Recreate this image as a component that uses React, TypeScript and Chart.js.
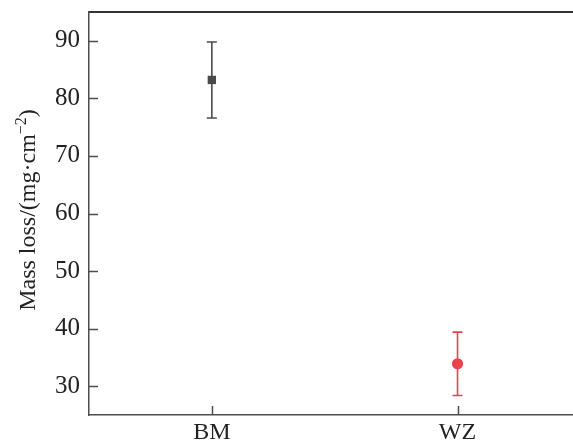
import React, { useEffect, useRef } from "react";
import { Chart, registerables } from "chart.js";

Chart.register(...registerables);

const categories = ["BM", "WZ"];
const categoryPositions = [1, 2];
const means = [83.2, 33.9];
const errors = [6.6, 5.5];
const colors = ["#4a4a4a", "#e8434c"];
const pointShapes = ["rect", "circle"];
const yTicks = [30, 40, 50, 60, 70, 80, 90];

const AXIS_COLOR = "#4d4d4d";
const FONT = "'Liberation Serif', 'Times New Roman', serif";

const errorBarPlugin = {
  id: "errorBars",
  afterDatasetsDraw(chart: any) {
    const ctx = chart.ctx;
    const xs = chart.scales.x;
    const ys = chart.scales.y;
    ctx.save();
    categoryPositions.forEach((p, i) => {
      const x = xs.getPixelForValue(p);
      const yTop = ys.getPixelForValue(means[i] + errors[i]);
      const yBot = ys.getPixelForValue(means[i] - errors[i]);
      ctx.strokeStyle = colors[i];
      ctx.lineWidth = 1.6;
      ctx.beginPath();
      ctx.moveTo(x, yTop);
      ctx.lineTo(x, yBot);
      ctx.moveTo(x - 5, yTop);
      ctx.lineTo(x + 5, yTop);
      ctx.moveTo(x - 5, yBot);
      ctx.lineTo(x + 5, yBot);
      ctx.stroke();
    });
    ctx.restore();
  },
};

const innerTicksPlugin = {
  id: "innerTicks",
  afterDraw(chart: any) {
    const ctx = chart.ctx;
    const xs = chart.scales.x;
    const ys = chart.scales.y;
    const area = chart.chartArea;
    ctx.save();
    ctx.strokeStyle = AXIS_COLOR;
    ctx.lineWidth = 1.5;
    ctx.beginPath();
    ys.ticks.forEach((t: any) => {
      const y = Math.round(ys.getPixelForValue(t.value)) + 0.5;
      ctx.moveTo(area.left, y);
      ctx.lineTo(area.left + 9, y);
    });
    xs.ticks.forEach((t: any) => {
      const x = Math.round(xs.getPixelForValue(t.value)) + 0.5;
      ctx.moveTo(x, area.bottom);
      ctx.lineTo(x, area.bottom - 9);
    });
    ctx.stroke();

    // y-axis title with superscript
    const main = "Mass loss/(mg·cm";
    const sup = "−2";
    const close = ")";
    ctx.fillStyle = "#222";
    ctx.font = `24px ${FONT}`;
    const wMain = ctx.measureText(main).width;
    const wClose = ctx.measureText(close).width;
    ctx.font = `16px ${FONT}`;
    const wSup = ctx.measureText(sup).width;
    const total = wMain + wSup + wClose;
    const cy = 210;
    ctx.translate(35, cy);
    ctx.rotate(-Math.PI / 2);
    ctx.textBaseline = "alphabetic";
    ctx.textAlign = "left";
    let x0 = -total / 2;
    ctx.font = `24px ${FONT}`;
    ctx.fillText(main, x0, 0);
    x0 += wMain;
    ctx.font = `16px ${FONT}`;
    ctx.fillText(sup, x0, -9);
    x0 += wSup;
    ctx.font = `24px ${FONT}`;
    ctx.fillText(close, x0, 0);
    ctx.restore();
  },
};

export default function App() {
  const ref = useRef<HTMLCanvasElement>(null);
  useEffect(() => {
    if (!ref.current) return;
    const chart = new Chart(ref.current, {
      type: "scatter",
      data: {
        datasets: categories.map((c, i) => ({
          label: c,
          data: [{ x: categoryPositions[i], y: means[i] }],
          backgroundColor: colors[i],
          borderColor: colors[i],
          pointStyle: pointShapes[i] as any,
          pointRadius: i === 0 ? 5.9 : 5.6,
          borderWidth: 0,
        })),
      },
      options: {
        animation: false,
        responsive: false,
        layout: { padding: 0, autoPadding: false },
        plugins: { legend: { display: false }, tooltip: { enabled: false } },
        scales: {
          x: {
            type: "linear",
            position: "bottom",
            min: 0.5,
            max: 2.47,
            afterBuildTicks: (s: any) => {
              s.ticks = categoryPositions.map((v) => ({ value: v }));
            },
            afterFit: (s: any) => {
              s.height = 30;
              s.paddingLeft = 0;
              s.paddingRight = 0;
            },
            ticks: {
              autoSkip: false,
              maxRotation: 0,
              padding: 3,
              color: "#222",
              font: { family: FONT, size: 24 },
              callback: (v: any) => {
                const idx = categoryPositions.indexOf(Number(v));
                return idx >= 0 ? categories[idx] : "";
              },
            },
            grid: { display: false, drawTicks: false },
            border: { display: true, color: AXIS_COLOR, width: 1.5 },
          },
          x2: {
            type: "linear",
            position: "top",
            min: 0.5,
            max: 2.47,
            afterFit: (s: any) => {
              s.height = 12;
              s.paddingLeft = 0;
              s.paddingRight = 0;
            },
            ticks: { display: false },
            grid: { display: false, drawTicks: false },
            border: { display: true, color: "#333", width: 2 },
          },
          y: {
            type: "linear",
            position: "left",
            min: 25,
            max: 95,
            afterBuildTicks: (s: any) => {
              s.ticks = yTicks.map((v) => ({ value: v }));
            },
            afterFit: (s: any) => {
              s.width = 89;
              s.paddingTop = 0;
              s.paddingBottom = 0;
            },
            ticks: {
              padding: 9,
              color: "#222",
              font: { family: FONT, size: 25 },
            },
            grid: { display: false, drawTicks: false },
            border: { display: true, color: AXIS_COLOR, width: 1.5 },
          },
        },
      },
      plugins: [errorBarPlugin, innerTicksPlugin],
    });
    return () => chart.destroy();
  }, []);
  return (
    <div style={{ position: "absolute", left: 0, top: 0, width: 573, height: 445, background: "#fff" }}>
      <canvas ref={ref} width={573} height={445} style={{ display: "block", width: 573, height: 445 }} />
    </div>
  );
}
